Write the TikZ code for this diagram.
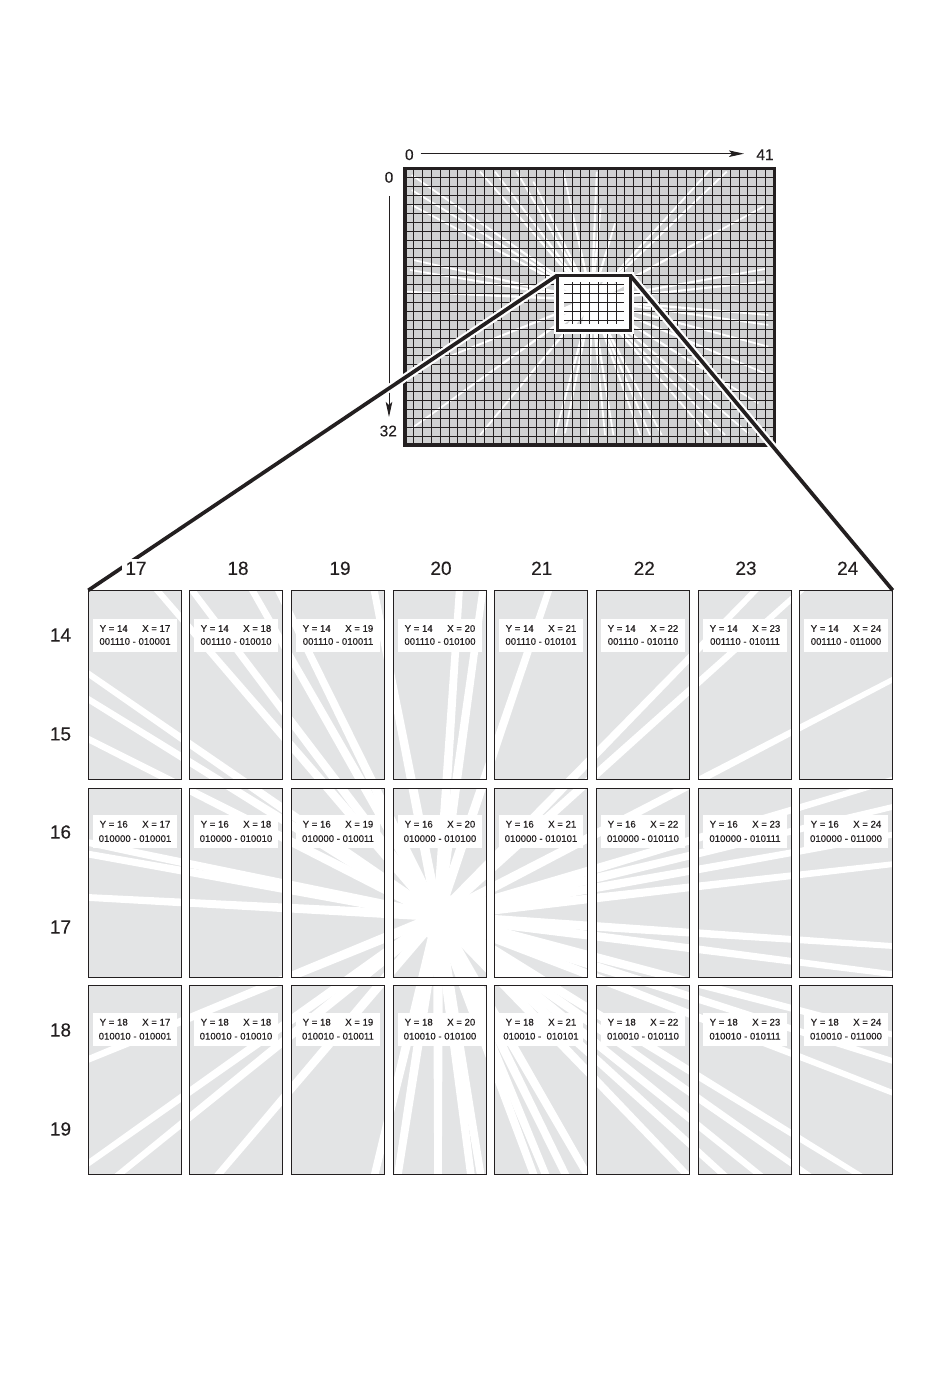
\documentclass[tikz,border=0pt]{standalone}
\usepackage{fontspec}
\setmainfont{Liberation Sans}
\newfontfamily\labf{Liberation Sans}[FakeBold=0.35]
\newfontfamily\bigf{Liberation Sans}[FakeBold=0.12]
\usetikzlibrary{arrows.meta}
\definecolor{pgray}{HTML}{E3E4E5}
\definecolor{ogray}{HTML}{D0D1D2}
\definecolor{ink}{HTML}{231F20}
\tikzset{
  panel/.style={fill=pgray,draw=none,anchor=north west,inner sep=0pt,outer sep=0pt,minimum width=93.4pt,minimum height=189pt},
  lab/.style={fill=white,inner sep=0pt,outer sep=0pt,minimum width=84pt,minimum height=33pt,align=center,text=ink,font=\labf\fontsize{9.6}{#1}\selectfont},
  big/.style={fill=white,inner sep=3pt,text=ink,font=\bigf\fontsize{19}{21}\selectfont},
  small/.style={inner sep=0pt,text=ink,font=\bigf\fontsize{15.5}{17}\selectfont},
  axis/.style={draw=ink,line width=1pt,-{Stealth[length=15pt,width=6.5pt,inset=3pt]}},
  zoomline/.style={draw=ink,line width=3.7pt},
  halo/.style={draw=white,line width=8pt},
  box/.style={inner sep=0pt,outer sep=0pt,anchor=north west},
}
\newcommand\ovrays[1]{%
  \foreach \ex/\ey in {125/105,125/150,125/195,130/360,120/390,110/455,
    330/95,375/95,440/95,490/125,580/95,680/95,692/205,735/250,
    1020/90,1070/95,1180/200,1185/387,1185/425,
    1195/525,1195/555,1195/620,1185/700,1165/790,1135/880,1065/885,1015/885,
    875/885,840/885,810/885,730/885,705/885,655/885,585/880,555/885,
    125/865,330/885,235/650}{
    \pgfmathsetmacro\dxx{(\ex-665)/3}
    \pgfmathsetmacro\dyy{(\ey-480)/3}
    \pgfmathsetmacro\ang{atan2(-\dyy,\dxx)}
    \pgfmathsetmacro\len{veclen(\dxx,\dyy)}
    \fill[white,shift={(591.7,300)},rotate=\ang] (0pt,-#1pt) -- (\len pt,-.85pt) -- (\len pt,.85pt) -- (0pt,#1pt) -- cycle;
  }}
\begin{document}
\begin{tikzpicture}[x=1pt,y=-1pt]
\useasboundingbox (0,0) rectangle (950,1388);
% ---------- overview ----------
\node[box,fill=ogray,minimum width=369pt,minimum height=276.5pt] (ov) at (405,168.5) {};
\begin{scope}
\clip (405,168.5) rectangle (774,445);
\ovrays{1.3}
\begin{scope}
\clip (557,275.5) rectangle (630.3,330);
\ovrays{4}
\fill[white] (591.7,300) circle[radius=10pt];
\end{scope}
\foreach \i in {1,...,41}{\draw[ink,line width=.7pt] (405+\i*8.786,168.5) -- (405+\i*8.786,445);}
\foreach \i in {1,...,30}{\draw[ink,line width=.7pt] (405,168.5+\i*8.92) -- (774,168.5+\i*8.92);}
\end{scope}
\node[box,draw=ink,line width=3.3pt,minimum width=369.5pt,minimum height=276.5pt] (ovf) at (405,168.5) {};
% detail box with white surround
\draw[white,line width=7pt] (557,275.5) rectangle (630.3,330);
\draw[white,line width=5pt] (561,279.5) rectangle (626.3,326);
\node[box,draw=ink,line width=3pt,minimum width=73.3pt,minimum height=54.5pt] (det) at (557,275.5) {};
% axes
\node[small] (h0) at (409.3,154.7) {0};
\node[small] (h41) at (765,154.7) {41};
\node[small] (v0) at (389,177.3) {0};
\node[small] (v32) at (388.3,431) {32};
\coordinate (hs) at (420.7,153.7);
\coordinate (he) at (744,153.7);
\coordinate (vs) at (389,196);
\coordinate (ve) at (389,417);
\draw[axis] (hs) -- (he);
\draw[axis] (vs) -- (ve);
% ---------- panels ----------
\foreach \r/\ry in {14/590.3,16/788.3,18/985.3}{
  \foreach \c/\cx in {17/88.3,18/189.3,19/291.3,20/393.3,21/494.3,22/596.3,23/698.3,24/799.3}{
    \coordinate (k\r\c) at (\cx,\ry);
  }
}
% white surround of the zoom lines (under the panels)
\draw[halo] (det.north west) -- (k1417);
\path (k1424) ++(93.4,0) coordinate (kr);
\draw[halo] (det.north east) -- (kr);
\foreach \r/\ry in {14/590.3,16/788.3,18/985.3}{
  \foreach \c/\cx in {17/88.3,18/189.3,19/291.3,20/393.3,21/494.3,22/596.3,23/698.3,24/799.3}{
    \node[panel] (p\r\c) at (\cx,\ry) {};
  }
}
% detail box again above the surround
\node[box,draw=ink,line width=3pt,minimum width=73.3pt,minimum height=54.5pt] (det2) at (557,275.5) {};
% ---------- rays ----------
\begin{scope}
\clip (84,586) rectangle (897,1178);
\foreach \dxx/\dyy in {-.862/-1,-.755/-1,-.57/-1,-.49/-1,-.196/-1,
  -1/-.693,-1/-.62,-1/-.506,-1/-.21,-1/-.177,-1/-.053,
  .0655/-1,.1375/-1,.34/-1,1/-1.026,1/-.897,1/-.52,1/-.30,1/-.24,1/-.179,1/-.114,
  1/.066,1/.128,1/.261,1/.319,1/.389,1/.615,1/.70,1/.805,1/.906,1/1.04,
  .577/1,.493/1,.416/1,.37/1,.165/1,.127/1,0/1,-.155/1,-.245/1,
  -1/1.177,-1/.81,-1/.707,-1/.41}{
  \pgfmathsetmacro\ang{atan2(-\dyy,\dxx)}
  \fill[white,shift={(438,916)},rotate=\ang] (0pt,-5pt) -- (700pt,-1.8pt) -- (700pt,1.8pt) -- (0pt,5pt) -- cycle;
}
\fill[white] (440,917) circle[radius=24pt];
\end{scope}
% ---------- panel outlines and labels ----------
\foreach \r/\bin/\ly/\lh in {14/001110/635/13,16/010000/831.4/14.4,18/010010/1029.2/14}{
  \foreach \c/\cb in {17/010001,18/010010,19/010011,20/010100,21/010101,22/010110,23/010111,24/011000}{
    \draw[ink,line width=1.1pt] (p\r\c.north west) rectangle (p\r\c.south east);
    \path (p\r\c.north) -- (p\r\c.south) coordinate[pos=0] (t\r\c);
    \ifnum\r\c=1821\relax
      \node[lab=\lh] (l\r\c) at (t\r\c |- 0,\ly) {Y = \r\hspace{14.5pt}X = \c\\\bin\ -\ \ \cb};
    \else
      \node[lab=\lh] (l\r\c) at (t\r\c |- 0,\ly) {Y = \r\hspace{14.5pt}X = \c\\\bin\ -\ \cb};
    \fi
  }
}
% zoom lines on top
\draw[zoomline] (det.north west) -- (p1417.north west);
\draw[zoomline] (det.north east) -- (p1424.north east);
% column and row labels
\foreach \t/\x in {17/136,18/238,19/340,20/441,21/541.7,22/644.3,23/746,24/847.7}{
  \node[big] (c\t) at (\x,568.3) {\t};
}
\foreach \t/\y in {14/635,15/734,16/832,17/927,18/1030,19/1129}{
  \node[big] (r\t) at (60.5,\y) {\t};
}
\end{tikzpicture}
\end{document}
